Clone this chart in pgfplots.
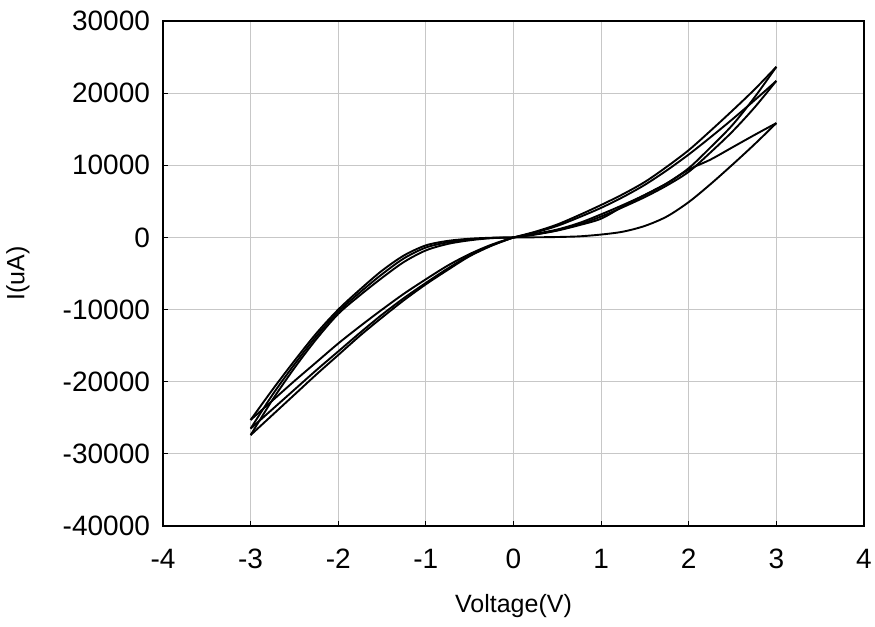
\documentclass[border=0pt]{standalone}
\usepackage{fontspec}
\setmainfont{Liberation Sans}
\usepackage{pgfplots}
\pgfplotsset{compat=1.18}
\begin{document}
\begin{tikzpicture}
\begin{axis}[
  scale only axis, width=350.5pt, height=252.5pt,
  xmin=-4, xmax=4, ymin=-40000, ymax=30000,
  xtick={-4,-3,...,4}, ytick={-40000,-30000,...,30000},
  grid=major, major grid style={color=black!22, line width=0.5pt},
  axis line style={line width=1.3pt},
  tick style={black, line width=0.5pt}, major tick length=2.5pt,
  tick align=inside, tick pos=left,
  scaled y ticks=false,
  /pgf/number format/1000 sep={},
  /pgf/number format/assume math mode=true,
  ticklabel style={font=\fontsize{14}{16}\selectfont},
  xticklabel style={yshift=-8pt},
  yticklabel style={xshift=-3pt},
  label style={font=\fontsize{12.5}{14}\selectfont},
  xlabel={Voltage(V)}, ylabel={I(uA)},
  xlabel style={at={(axis description cs:0.5,-0.172)}, anchor=base},
  ylabel style={at={(axis description cs:-0.207,0.5)}, anchor=center},
  cycle list={{black, solid, mark=none}},
  every axis plot/.append style={line width=0.95pt, smooth, tension=0.5},
]
% positive side
\addplot coordinates {(0,0)(0.25,20)(0.5,60)(0.75,150)(1,400)(1.25,800)(1.5,1600)(1.75,2900)(2,4900)(2.25,7400)(2.5,10100)(2.75,12900)(3,15850)};
\addplot coordinates {(3,15850)(2.75,14200)(2.5,12500)(2.25,10800)(2,9400)(1.75,7500)(1.5,5900)(1.25,4300)(1,2600)(0.75,1700)(0.5,950)(0.25,400)(0,0)};
\addplot coordinates {(0,0)(0.25,450)(0.5,1000)(0.75,1800)(1,2900)(1.25,4200)(1.5,5600)(1.75,7200)(2,9100)(2.25,11800)(2.5,14700)(2.75,18000)(3,21700)};
\addplot coordinates {(3,21700)(2.75,19000)(2.5,16400)(2.25,13900)(2,11500)(1.75,9300)(1.5,7300)(1.25,5600)(1,4100)(0.75,2800)(0.5,1600)(0.25,700)(0,0)};
\addplot coordinates {(0,0)(0.25,500)(0.5,1100)(0.75,2000)(1,3200)(1.25,4500)(1.5,5900)(1.75,7500)(2,9600)(2.25,12500)(2.5,15600)(2.75,19400)(3,23650)};
\addplot coordinates {(3,23650)(2.75,20500)(2.5,17600)(2.25,14800)(2,12100)(1.75,9800)(1.5,7700)(1.25,6000)(1,4500)(0.75,3100)(0.5,1800)(0.25,800)(0,0)};
% negative side
\addplot coordinates {(0,0)(-0.25,-40)(-0.5,-180)(-0.75,-480)(-1,-1100)(-1.25,-2500)(-1.5,-4600)(-1.75,-7200)(-2,-10000)(-2.25,-13300)(-2.5,-17100)(-2.75,-21100)(-3,-25300)};
\addplot coordinates {(0,0)(-0.25,-70)(-0.5,-280)(-0.75,-680)(-1,-1400)(-1.25,-2900)(-1.5,-5100)(-1.75,-7600)(-2,-10300)(-2.25,-13700)(-2.5,-17600)(-2.75,-21800)(-3,-26500)};
\addplot coordinates {(0,0)(-0.25,-100)(-0.5,-400)(-0.75,-900)(-1,-1800)(-1.25,-3400)(-1.5,-5600)(-1.75,-8000)(-2,-10600)(-2.25,-14100)(-2.5,-18100)(-2.75,-22500)(-3,-27400)};
\addplot coordinates {(-3,-25300)(-2.75,-22600)(-2.5,-19900)(-2.25,-17300)(-2,-14700)(-1.75,-12300)(-1.5,-10000)(-1.25,-7800)(-1,-5800)(-0.75,-3900)(-0.5,-2300)(-0.25,-1000)(0,0)};
\addplot coordinates {(-3,-26500)(-2.75,-23800)(-2.5,-21100)(-2.25,-18400)(-2,-15800)(-1.75,-13200)(-1.5,-10700)(-1.25,-8400)(-1,-6300)(-0.75,-4300)(-0.5,-2500)(-0.25,-1100)(0,0)};
\addplot coordinates {(-3,-27400)(-2.75,-24600)(-2.5,-21800)(-2.25,-19000)(-2,-16300)(-1.75,-13600)(-1.5,-11100)(-1.25,-8700)(-1,-6500)(-0.75,-4500)(-0.5,-2600)(-0.25,-1150)(0,0)};
\end{axis}
\pgfresetboundingbox
\path (-81.5pt,-50.5pt) rectangle (356pt,263pt);
\end{tikzpicture}
\end{document}
